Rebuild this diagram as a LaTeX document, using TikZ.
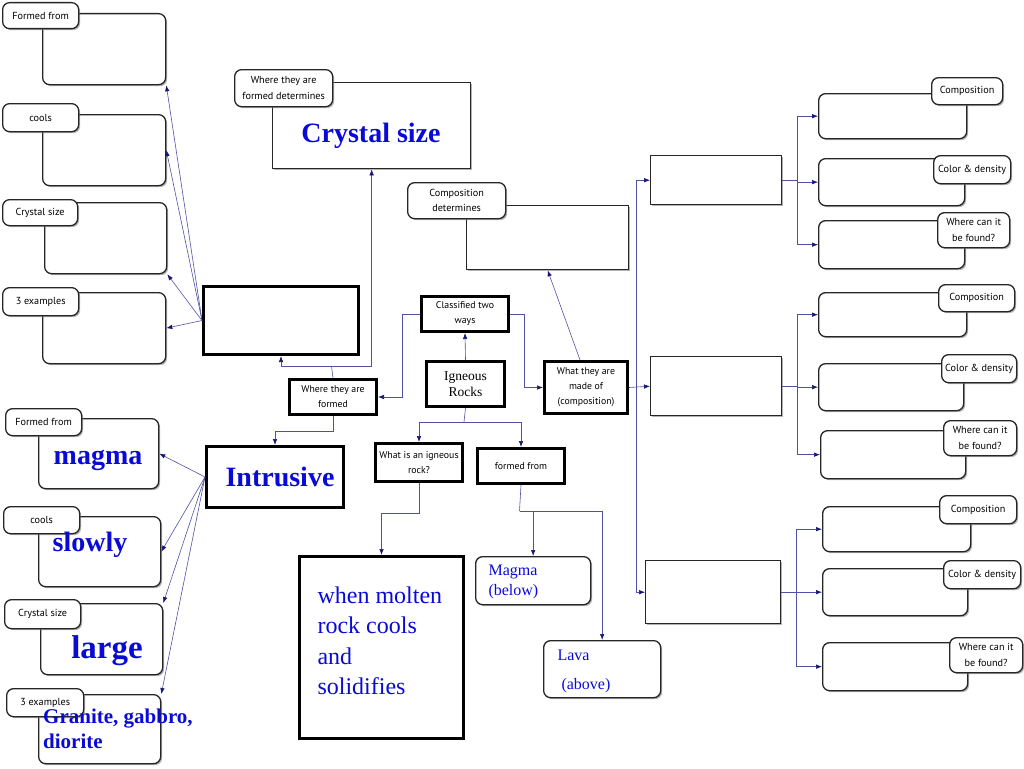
\documentclass[tikz,border=0pt]{standalone}
\usepackage{fontspec}
\setmainfont{Liberation Serif}
\newfontfamily\handfont{PT Sans}
\usetikzlibrary{arrows.meta, shadows}

\definecolor{inkblue}{RGB}{10,10,215}
\definecolor{linkblue}{RGB}{80,80,165}
\definecolor{headblue}{RGB}{20,20,115}

\begin{document}
\begin{tikzpicture}[
    x=1pt, y=-1pt,
    softshadow/.style={drop shadow={shadow xshift=1.5pt, shadow yshift=-1.5pt, fill=black!50, opacity=0.6}},
    card/.style={draw=black!85, line width=1.3pt, rounded corners=7pt, fill=white, anchor=north west, softshadow, inner sep=1pt},
    tagbox/.style={card, font=\handfont\fontsize{10.2}{15.5}\selectfont, align=center},
    thickbox/.style={draw, line width=3pt, fill=white, anchor=north west, softshadow, inner sep=1pt, font=\handfont\fontsize{9.8}{15}\selectfont, align=center},
    plainbox/.style={draw=black!85, line width=1.4pt, fill=white, anchor=north west, softshadow},
    bigtext/.style={text=inkblue, font=\fontsize{28}{30}\selectfont\bfseries},
    link/.style={draw=linkblue, line width=0.6pt},
    arr/.style={link, -{Latex[length=6pt, width=4.5pt, color=headblue]}}
]
    \useasboundingbox (0,0) rectangle (1024,768);

    % Left column, blank cards
    \node[card, minimum width=123, minimum height=71] (a1) at (42,13) {};
    \node[card, minimum width=123, minimum height=71] (a2) at (42,114) {};
    \node[card, minimum width=122, minimum height=71] (a3) at (44,202) {};
    \node[card, minimum width=123, minimum height=71] (a4) at (42,292) {};
    \node[tagbox, minimum width=76, minimum height=26] (ta1) at (2,2) {Formed from};
    \node[tagbox, minimum width=76, minimum height=28] (ta2) at (2,103) {cools};
    \node[tagbox, minimum width=75, minimum height=26] (ta3) at (2,199) {Crystal size};
    \node[tagbox, minimum width=76, minimum height=28] (ta4) at (2,287) {3 examples};

    % Left column, filled cards
    \node[card, minimum width=120, minimum height=70] (f1) at (38,418) {};
    \node[card, minimum width=122, minimum height=70] (f2) at (38,516) {};
    \node[card, minimum width=122, minimum height=71] (f3) at (40,603) {};
    \node[card, minimum width=122, minimum height=69] (f4) at (38,694) {};
    \node[tagbox, minimum width=76, minimum height=27] (tf1) at (5,408) {Formed from};
    \node[tagbox, minimum width=76, minimum height=27] (tf2) at (3,506) {cools};
    \node[tagbox, minimum width=76, minimum height=29] (tf3) at (4,599) {Crystal size};
    \node[tagbox, minimum width=77, minimum height=28] (tf4) at (6,688) {3 examples};
    \node[bigtext] (magtxt) at (98,460) {magma};
    \node[bigtext] (slotxt) at (90,545) {slowly};
    \node[bigtext, font=\fontsize{33}{35}\selectfont\bfseries] (lartxt) at (107,651) {large};
    \node[bigtext, font=\fontsize{21}{25}\selectfont\bfseries, anchor=north west, align=left, inner sep=0pt] (extxt) at (43,709) {Granite, gabbro,\\diorite};

    % Centre
    \node[thickbox, minimum width=155, minimum height=68] (ext) at (202,285) {};
    \node[card, minimum width=198, minimum height=86, rounded corners=0pt] (cs) at (272,82) {};
    \node[tagbox, minimum width=98, minimum height=37] (tcs) at (234,69) {Where they are\\formed determines};
    \node[bigtext] (cstxt) at (371,136) {Crystal size};
    \node[thickbox, minimum width=87, minimum height=35] (wtaf) at (288,378) {Where they are\\formed};
    \node[thickbox, minimum width=137, minimum height=61, text=inkblue, font=\fontsize{28}{30}\selectfont\bfseries] (intr) at (205,445) {\hspace{10pt}Intrusive};
    \node[thickbox, minimum width=87, minimum height=35] (cl) at (420,295) {Classified two\\ways};
    \node[thickbox, minimum width=78, minimum height=45, font=\fontsize{13.5}{16}\selectfont] (ig) at (425,360) {Igneous\\Rocks};
    \node[thickbox, minimum width=87, minimum height=38] (wir) at (374,442) {What is an igneous\\rock?};
    \node[thickbox, minimum width=87, minimum height=35] (ff) at (476,447) {formed from};
    \node[thickbox, minimum width=83, minimum height=52] (wm) at (543,360) {What they are\\made of\\(composition)};
    \node[thickbox, minimum width=164, minimum height=182] (mol) at (298,555) {};
    \node[text=inkblue, font=\fontsize{24}{30.5}\selectfont, anchor=west, align=left] (moltxt) at (314,641) {when molten\\rock cools\\and\\solidifies};
    \node[card, minimum width=115, minimum height=48] (mag) at (475,556) {};
    \node[text=inkblue, font=\fontsize{16}{20}\selectfont, anchor=north west, align=left] (magtxt2) at (485,561) {Magma\\(below)};
    \node[card, minimum width=117, minimum height=57] (lav) at (543,640) {};
    \node[text=inkblue, font=\fontsize{16}{20}\selectfont, anchor=north west, align=left] (lavtxt) at (554,646) {Lava\\[9pt]\hspace{4pt}(above)};
    \node[card, minimum width=162, minimum height=64, rounded corners=0pt] (cd) at (466,205) {};
    \node[tagbox, minimum width=98, minimum height=36] (tcd) at (407,182) {Composition\\determines};

    % Right side
    \node[plainbox, minimum width=131, minimum height=49] (r1) at (650,155) {};
    \node[plainbox, minimum width=131, minimum height=59] (r2) at (650,356) {};
    \node[plainbox, minimum width=135, minimum height=63] (r3) at (645,560) {};

    \node[card, minimum width=148, minimum height=45] (b1) at (818,93) {};
    \node[card, minimum width=146, minimum height=47] (b2) at (818,158) {};
    \node[card, minimum width=146, minimum height=48] (b3) at (818,220) {};
    \node[card, minimum width=148, minimum height=44] (c1) at (818,292) {};
    \node[card, minimum width=145, minimum height=47] (c2) at (818,363) {};
    \node[card, minimum width=145, minimum height=48] (c3) at (820,430) {};
    \node[card, minimum width=148, minimum height=45] (d1) at (822,506) {};
    \node[card, minimum width=145, minimum height=47] (d2) at (822,568) {};
    \node[card, minimum width=145, minimum height=48] (d3) at (822,642) {};
    \node[tagbox, minimum width=71, minimum height=27] (tb1) at (931,77) {Composition};
    \node[tagbox, minimum width=77, minimum height=28] (tb2) at (933,155) {Color \& density};
    \node[tagbox, minimum width=72, minimum height=35] (tb3) at (937,212) {Where can it\\be found?};
    \node[tagbox, minimum width=76, minimum height=27] (tc1) at (938,284) {Composition};
    \node[tagbox, minimum width=75, minimum height=28] (tc2) at (941,354) {Color \& density};
    \node[tagbox, minimum width=73, minimum height=35] (tc3) at (943,420) {Where can it\\be found?};
    \node[tagbox, minimum width=77, minimum height=28] (td1) at (939,495) {Composition};
    \node[tagbox, minimum width=77, minimum height=28] (td2) at (943,560) {Color \& density};
    \node[tagbox, minimum width=73, minimum height=35] (td3) at (949,637) {Where can it\\be found?};

    % Junctions
    \coordinate (jw) at (331.5,366);
    \coordinate (ji) at (464,422);
    \coordinate (jf) at (519.5,511);
    \coordinate (jr) at (636,386);

    % Connectors
    \draw[arr] (ext.west) -- (a1.south east);
    \draw[arr] (ext.west) -- (a2.east);
    \draw[arr] (ext.west) -- (a3.south east);
    \draw[arr] (ext.west) -- (a4.east);

    \draw[arr] (intr.west) -- (f1.east);
    \draw[arr] (intr.west) -- (f2.east);
    \draw[arr] (intr.west) -- (f3.north east);
    \draw[arr] (intr.west) -- (f4.north east);

    \draw[link] (wtaf.north) -- (jw);
    \draw[arr] (jw) -| (ext.south);
    \draw[arr] (jw) -| (cs.south);
    \draw[arr] (wtaf.south) -- ++(0,15) -| (intr.north);

    \draw[arr] (ig.north) -- (cl.south);
    \draw[arr] (cl.west) -- ++(-18,0) |- (wtaf.east);
    \draw[arr] (cl.east) -- ++(14,0) |- (wm.west);

    \draw[link] (ig.south) -- (ji);
    \draw[arr] (ji) -| (wir.north);
    \draw[arr] (ji) -| (ff.north);
    \draw[arr] (wir.south) -- ++(0,30) -| (mol.north);
    \draw[link] (ff.south) -- (jf);
    \draw[arr] (jf) -| (mag.north);
    \draw[arr] (jf) -| (lav.north);

    \draw[arr] ([xshift=-6pt]wm.north) -- (cd.south);
    \draw[arr] (wm.east) -- (r2.west);
    \draw[arr] (jr) |- (r1.west);
    \draw[arr] (jr) |- (r3.west);

    \foreach \r/\p in {r1/b, r2/c, r3/d} {
        \draw[link] (\r.east) -- ++(15,0) coordinate (k);
        \foreach \i in {1,2,3}
            \draw[arr] (k) |- (\p\i.west);
    }

\end{tikzpicture}
\end{document}
